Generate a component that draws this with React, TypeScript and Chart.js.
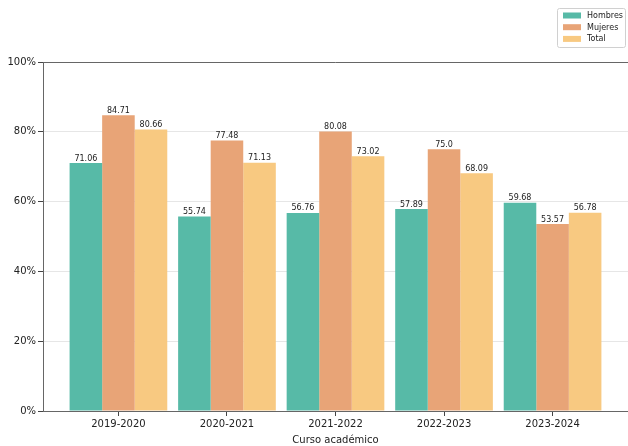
import React, { useEffect, useRef } from 'react';
import { Chart, registerables } from 'chart.js';

Chart.register(...registerables);

const categories = ['2019-2020', '2020-2021', '2021-2022', '2022-2023', '2023-2024'];
const hombres = [71.06, 55.74, 56.76, 57.89, 59.68];
const mujeres = [84.71, 77.48, 80.08, 75.0, 53.57];
const total = [80.66, 71.13, 73.02, 68.09, 56.78];
const seriesNames = ['Hombres', 'Mujeres', 'Total'];
const seriesColors = ['#57baa7', '#e8a477', '#f8c981'];

const FONT = '"DejaVu Sans", sans-serif';

const fmt = (v: number) => (Number.isInteger(v) ? v.toFixed(1) : String(v));

// matplotlib style extras: top spine, value labels, boxed legend
const extras = {
  id: 'extras',
  afterDatasetsDraw(chart: any) {
    const ctx = chart.ctx;
    ctx.save();
    ctx.font = `8px ${FONT}`;
    ctx.fillStyle = '#222';
    ctx.textAlign = 'center';
    ctx.textBaseline = 'bottom';
    chart.data.datasets.forEach((ds: any, di: number) => {
      const meta = chart.getDatasetMeta(di);
      meta.data.forEach((el: any, i: number) => {
        ctx.fillText(fmt(ds.data[i].y), el.x, el.y - 0.5);
      });
    });
    ctx.restore();
  },
  afterDraw(chart: any) {
    const ctx = chart.ctx;
    const { left, right, top } = chart.chartArea;
    ctx.save();
    ctx.strokeStyle = '#666';
    ctx.lineWidth = 1;
    ctx.beginPath();
    ctx.moveTo(left, top + 0.5);
    ctx.lineTo(right, top + 0.5);
    ctx.stroke();

    // legend
    const bx = 557.5, by = 8.5, bw = 68, bh = 39;
    ctx.fillStyle = 'rgba(255,255,255,0.8)';
    ctx.strokeStyle = '#d0d0d0';
    ctx.beginPath();
    ctx.roundRect(bx, by, bw, bh, 2);
    ctx.fill();
    ctx.stroke();
    ctx.font = `8px ${FONT}`;
    ctx.textAlign = 'left';
    ctx.textBaseline = 'middle';
    seriesNames.forEach((name, i) => {
      const cy = 15.5 + i * 11.7;
      ctx.fillStyle = seriesColors[i];
      ctx.fillRect(563, cy - 3, 18, 6);
      ctx.fillStyle = '#222';
      ctx.fillText(name, 587, cy + 0.5);
    });
    ctx.restore();
  },
};

export default function App() {
  const canvasRef = useRef<HTMLCanvasElement | null>(null);
  const chartRef = useRef<Chart | null>(null);

  useEffect(() => {
    document.body.style.margin = '0';
    if (!canvasRef.current) return;
    const allSeries = [hombres, mujeres, total];

    chartRef.current = new Chart(canvasRef.current, {
      type: 'bar',
      data: {
        datasets: allSeries.map((vals, si) => ({
          label: seriesNames[si],
          data: vals.map((v, i) => ({ x: i, y: v })),
          backgroundColor: seriesColors[si],
          borderWidth: 0,
          categoryPercentage: 0.9,
          barPercentage: 1.0,
        })),
      },
      options: {
        responsive: false,
        animation: false,
        layout: { padding: { top: 62, left: 0, right: 0, bottom: 0 } },
        plugins: {
          legend: { display: false },
          tooltip: { enabled: false },
        },
        scales: {
          x: {
            type: 'linear',
            offset: false,
            min: -0.695,
            max: 4.695,
            afterBuildTicks: (scale: any) => {
              scale.ticks = categories.map((_, i) => ({ value: i }));
            },
            afterFit: (scale: any) => {
              scale.height = 35;
            },
            ticks: {
              autoSkip: false,
              maxRotation: 0,
              padding: 2,
              font: { family: FONT, size: 10 },
              color: '#222',
              callback: (v: any) => categories[v] ?? '',
            },
            grid: {
              offset: false,
              drawOnChartArea: false,
              tickLength: 5,
              color: '#444',
            },
            border: { display: true, color: '#666' },
            title: {
              display: true,
              text: 'Curso académico',
              font: { family: FONT, size: 10 },
              color: '#222',
              padding: { top: 1, bottom: 0 },
            },
          },
          y: {
            min: 0,
            max: 100,
            afterFit: (scale: any) => {
              scale.width = 43;
            },
            ticks: {
              stepSize: 20,
              padding: 2,
              font: { family: FONT, size: 10 },
              color: '#222',
              callback: (v: any) => `${v}%`,
            },
            grid: {
              color: '#e6e6e6',
              tickColor: '#444',
              tickLength: 5,
            },
            border: { display: true, color: '#666' },
          },
        },
      },
      plugins: [extras],
    });

    return () => {
      chartRef.current?.destroy();
      chartRef.current = null;
    };
  }, []);

  return (
    <div style={{ width: 628, height: 446 }}>
      <canvas ref={canvasRef} width={628} height={446} />
    </div>
  );
}
